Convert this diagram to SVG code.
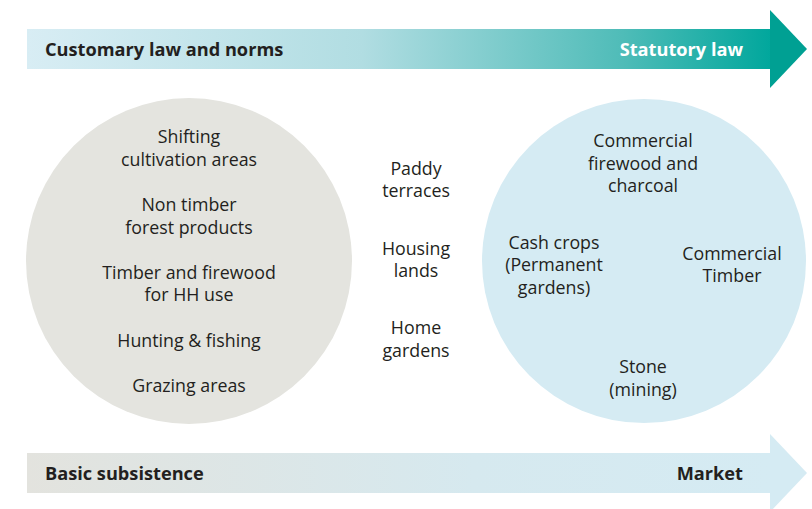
<svg xmlns="http://www.w3.org/2000/svg" width="812" height="509" viewBox="0 0 812 509">
<style>
.t{font-family:"Open Sans","Liberation Sans",sans-serif;font-size:17.8px;fill:#231f20;text-anchor:middle}
.b{font-family:"Open Sans","Liberation Sans",sans-serif;font-size:18.2px;font-weight:bold;fill:#231f20}
</style>
<defs>
<linearGradient id="gTop" x1="0" y1="0" x2="1" y2="0">
<stop offset="0" stop-color="#d8edf4"/>
<stop offset="0.45" stop-color="#b1dde2"/>
<stop offset="0.8" stop-color="#4fbcb8"/>
<stop offset="1" stop-color="#00a79c"/>
</linearGradient>
<linearGradient id="gBot" x1="0" y1="0" x2="1" y2="0">
<stop offset="0" stop-color="#e3e3de"/>
<stop offset="0.6" stop-color="#d6e9ef"/>
<stop offset="1" stop-color="#d5ebf3"/>
</linearGradient>
</defs>
<g id="arrow-top">
<rect x="27" y="29" width="745" height="40" fill="url(#gTop)"/>
<polygon points="770,10 807,49 770,88" fill="#00a093"/>
<text class="b" x="45" y="56">Customary law and norms</text>
<text class="b" x="743" y="56" text-anchor="end" style="fill:#ffffff">Statutory law</text>
</g>
<g id="arrow-bottom">
<rect x="27" y="453" width="745" height="40" fill="url(#gBot)"/>
<polygon points="770,434 807,473 770,512" fill="#d5ebf3"/>
<text class="b" x="45" y="480">Basic subsistence</text>
<text class="b" x="743" y="480" text-anchor="end">Market</text>
</g>
<g id="circle-left">
<circle cx="189" cy="261" r="163" fill="#e4e4df"/>
<text class="t" x="189" y="143">Shifting</text>
<text class="t" x="189" y="166">cultivation areas</text>
<text class="t" x="189" y="211">Non timber</text>
<text class="t" x="189" y="234">forest products</text>
<text class="t" x="189" y="279">Timber and firewood</text>
<text class="t" x="189" y="301">for HH use</text>
<text class="t" x="189" y="347">Hunting &amp; fishing</text>
<text class="t" x="189" y="392">Grazing areas</text>
</g>
<g id="middle">
<text class="t" x="416" y="175">Paddy</text>
<text class="t" x="416" y="197">terraces</text>
<text class="t" x="416" y="255">Housing</text>
<text class="t" x="416" y="277">lands</text>
<text class="t" x="416" y="334">Home</text>
<text class="t" x="416" y="357">gardens</text>
</g>
<g id="circle-right">
<circle cx="644" cy="261" r="162" fill="#d5ebf3"/>
<text class="t" x="643" y="147">Commercial</text>
<text class="t" x="643" y="170">firewood and</text>
<text class="t" x="643" y="192">charcoal</text>
<text class="t" x="554" y="249">Cash crops</text>
<text class="t" x="554" y="271">(Permanent</text>
<text class="t" x="554" y="294">gardens)</text>
<text class="t" x="732" y="260">Commercial</text>
<text class="t" x="732" y="282">Timber</text>
<text class="t" x="643" y="373">Stone</text>
<text class="t" x="643" y="396">(mining)</text>
</g>
</svg>
